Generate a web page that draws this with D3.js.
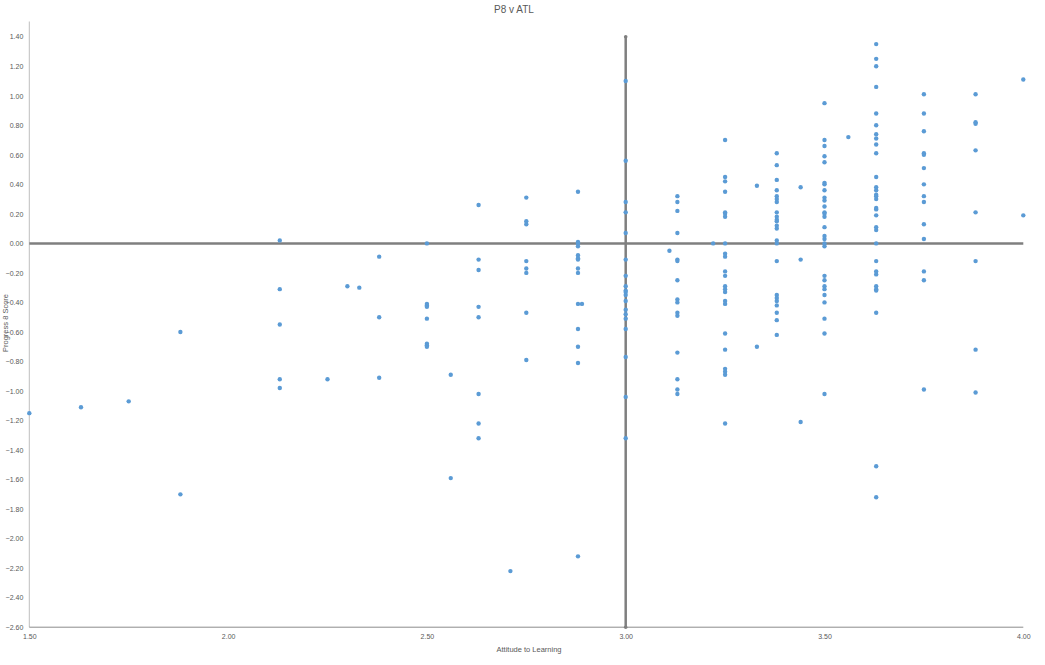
<!DOCTYPE html>
<html>
<head>
<meta charset="utf-8">
<script src="https://cdn.jsdelivr.net/npm/d3@7"></script>
<style>
  html, body { margin: 0; padding: 0; background: #ffffff; }
  svg { display: block; }
  text { font-family: "Liberation Sans", "DejaVu Sans", sans-serif; fill: #595959; }
</style>
</head>
<body>
<svg id="chart" width="1045" height="665"></svg>
<script>
// ---- Data ----
const chartTitle = "P8 v ATL";
const xTitle = "Attitude to Learning";
const yTitle = "Progress 8 Score";

const atlLevels = [1.50, 1.63, 1.75, 1.88, 2.13, 2.25, 2.30, 2.33, 2.38, 2.50, 2.56, 2.63, 2.71, 2.75, 2.88, 2.89,
                   3.00, 3.11, 3.13, 3.22, 3.25, 3.33, 3.38, 3.44, 3.50, 3.56, 3.63, 3.75, 3.88, 4.00];
const p8ByLevel = [
  [-1.15],
  [-1.11],
  [-1.07],
  [-0.60, -1.70],
  [0.02, -0.31, -0.55, -0.92, -0.98],
  [-0.92],
  [-0.29],
  [-0.30],
  [-0.09, -0.50, -0.91],
  [0.00, -0.41, -0.42, -0.43, -0.51, -0.68, -0.69, -0.70],
  [-0.89, -1.59],
  [0.26, -0.11, -0.18, -0.43, -0.50, -1.02, -1.22, -1.32],
  [-2.22],
  [0.31, 0.15, 0.13, -0.12, -0.17, -0.20, -0.47, -0.79],
  [0.35, 0.01, 0.00, -0.02, -0.08, -0.10, -0.11, -0.17, -0.20, -0.41, -0.58, -0.70, -0.81, -2.12],
  [-0.41],
  [1.10, 0.56, 0.28, 0.21, 0.07, -0.11, -0.22, -0.29, -0.32, -0.33, -0.35, -0.39, -0.45, -0.48, -0.51, -0.58, -0.77, -1.04, -1.32],
  [-0.05],
  [0.32, 0.28, 0.22, 0.07, -0.11, -0.12, -0.25, -0.38, -0.40, -0.47, -0.49, -0.74, -0.92, -0.99, -1.02],
  [0.00],
  [0.70, 0.45, 0.42, 0.35, 0.21, 0.20, 0.18, 0.00, -0.07, -0.09, -0.19, -0.22, -0.29, -0.31, -0.33, -0.39, -0.41, -0.61, -0.72, -0.85, -0.87, -0.89, -1.22],
  [0.39, -0.70],
  [0.61, 0.53, 0.43, 0.36, 0.32, 0.30, 0.28, 0.21, 0.18, 0.16, 0.15, 0.12, 0.10, 0.02, 0.00, -0.12, -0.35, -0.37, -0.39, -0.42, -0.47, -0.52, -0.62],
  [0.38, -0.11, -1.21],
  [0.95, 0.70, 0.66, 0.59, 0.55, 0.41, 0.40, 0.36, 0.31, 0.29, 0.25, 0.21, 0.20, 0.18, 0.11, 0.05, 0.03, 0.00, -0.02, -0.22, -0.25, -0.29, -0.31, -0.35, -0.40, -0.51, -0.61, -1.02],
  [0.72],
  [1.35, 1.25, 1.20, 1.06, 0.88, 0.80, 0.74, 0.71, 0.67, 0.61, 0.45, 0.38, 0.36, 0.33, 0.32, 0.30, 0.24, 0.23, 0.19, 0.11, 0.09, 0.00, -0.12, -0.19, -0.21, -0.29, -0.31, -0.32, -0.47, -1.51, -1.72],
  [1.01, 0.88, 0.76, 0.61, 0.60, 0.51, 0.40, 0.32, 0.28, 0.13, 0.03, -0.19, -0.25, -0.99],
  [1.01, 0.82, 0.81, 0.63, 0.21, -0.12, -0.72, -1.01],
  [1.11, 0.19]
];

const xTicks = [1.50, 2.00, 2.50, 3.00, 3.50, 4.00];
const yTicks = [1.40, 1.20, 1.00, 0.80, 0.60, 0.40, 0.20, 0.00, -0.20, -0.40, -0.60, -0.80, -1.00,
                -1.20, -1.40, -1.60, -1.80, -2.00, -2.20, -2.40, -2.60];
const xDomain = [1.5, 4.0];
const yDomain = [-2.6, 1.4];
const refX = 3.0;   // vertical reference line
const refY = 0.0;   // horizontal reference line

// ---- Build points ----
const points = [];
atlLevels.forEach((a, i) => p8ByLevel[i].forEach(v => points.push({ x: a, y: v })));

// ---- Layout ----
const svg = d3.select("#chart");
const plotLeft = 29.3, plotRight = 1023.3, plotTop = 36.7, plotBottom = 627.2;
const x = d3.scaleLinear().domain(xDomain).range([plotLeft, plotRight]);
const y = d3.scaleLinear().domain(yDomain).range([plotBottom, plotTop]);

// title
svg.append("text").attr("x", 514).attr("y", 13)
  .attr("text-anchor", "middle").style("font-size", "10px").text(chartTitle);

// y axis line (light gray)
svg.append("line").attr("x1", plotLeft).attr("x2", plotLeft).attr("y1", 21.5).attr("y2", plotBottom)
  .attr("stroke", "#bfbfbf").attr("stroke-width", 1);

// x axis line
svg.append("line").attr("x1", plotLeft).attr("x2", plotRight).attr("y1", plotBottom).attr("y2", plotBottom)
  .attr("stroke", "#8c8c8c").attr("stroke-width", 1);

// y axis labels
const yAxis = d3.axisLeft(y).tickValues(yTicks).tickSize(0).tickPadding(6)
  .tickFormat(d => d3.format(".2f")(d));
const gy = svg.append("g").attr("transform", `translate(${plotLeft},0)`).call(yAxis);
gy.select(".domain").remove();
gy.selectAll("text").style("font-size", "7px").attr("fill", "#595959");

// x axis labels
const xAxis = d3.axisBottom(x).tickValues(xTicks).tickSize(0).tickPadding(7)
  .tickFormat(d => d3.format(".2f")(d));
const gx = svg.append("g").attr("transform", `translate(0,${plotBottom})`).call(xAxis);
gx.select(".domain").remove();
gx.selectAll("text").style("font-size", "7px").attr("fill", "#595959");

// axis titles
svg.append("text").attr("x", 529).attr("y", 652)
  .attr("text-anchor", "middle").style("font-size", "7.5px").text(xTitle);
svg.append("text")
  .attr("transform", `translate(8,${323}) rotate(-90)`)
  .attr("text-anchor", "middle").style("font-size", "7.5px").text(yTitle);

// reference lines
svg.append("line").attr("x1", x(xDomain[0])).attr("x2", x(xDomain[1]))
  .attr("y1", y(refY)).attr("y2", y(refY))
  .attr("stroke", "#7f7f7f").attr("stroke-width", 2.5);
svg.append("line").attr("x1", x(refX)).attr("x2", x(refX))
  .attr("y1", y(yDomain[1])).attr("y2", y(yDomain[0]))
  .attr("stroke", "#7f7f7f").attr("stroke-width", 2.5);
svg.selectAll("circle.end").data([yDomain[1], yDomain[0]]).enter().append("circle")
  .attr("class", "end").attr("cx", x(refX)).attr("cy", d => y(d)).attr("r", 1.8)
  .attr("fill", "#7f7f7f");

// points
svg.append("g").selectAll("circle.pt").data(points).enter().append("circle")
  .attr("class", "pt")
  .attr("cx", d => x(d.x)).attr("cy", d => y(d.y)).attr("r", 2.2)
  .attr("fill", "#5b9bd5");
</script>
</body>
</html>
